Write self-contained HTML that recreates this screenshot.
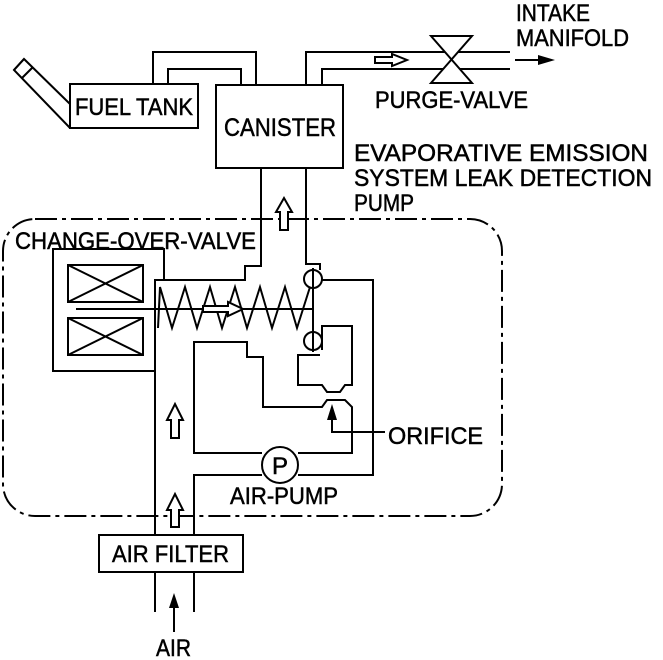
<!DOCTYPE html>
<html><head><meta charset="utf-8"><style>
html,body{margin:0;padding:0;background:#fff;}
svg{display:block;}
text{font-family:"Liberation Sans",Arial,sans-serif;fill:#000;stroke:#000;stroke-width:0.5px;font-size:24px;}
</style></head><body>
<svg width="663" height="660" viewBox="0 0 663 660" xmlns="http://www.w3.org/2000/svg">
<g fill="none" stroke="#000" stroke-width="2" stroke-linejoin="miter">
<rect x="3" y="219" width="499" height="297" rx="32" ry="32" stroke-dasharray="22,5,4,5"/>
<polyline points="70,128 14,70 24,59 70,104"/>
<line x1="14" y1="70" x2="24" y2="59"/>
<line x1="22" y1="78" x2="33" y2="67"/>
<rect x="70" y="84" width="128" height="44" fill="#fff"/>
<rect x="216" y="85" width="127" height="83"/>
<polyline points="153,84 153,52 256,52 256,85"/>
<polyline points="168,84 168,69 241,69 241,85"/>
<polyline points="306,85 306,52 510,52"/>
<polyline points="322,85 322,69 510,69"/>
<polygon points="431,36 472,36 431,83 472,83" fill="#fff"/>
<polygon points="375,57 392,57 392,54 407,60 392,66 392,63 375,63" fill="#fff"/>
<polyline points="261,168 261,266 245,266 245,280 155,280 155,535"/>
<polyline points="306,168 306,264 320,264 320,270"/>
<polygon points="280,230 280,212 276,212 284,198 292,212 288,212 288,230" fill="#fff"/>
<polyline points="155,371 53,371 53,249 164,249 164,280"/>
<rect x="68" y="265" width="75" height="37"/>
<line x1="68" y1="265" x2="143" y2="302"/><line x1="143" y1="265" x2="68" y2="302"/>
<rect x="68" y="318" width="75" height="37"/>
<line x1="68" y1="318" x2="143" y2="355"/><line x1="143" y1="318" x2="68" y2="355"/>
<line x1="76" y1="309" x2="313" y2="309"/>
<polyline points="158,328 160,287 172,328 185,287 197,328 210,287 222,328 235,287 247,328 260,287 272,328 285,287 297,328 310,287"/>
<polygon points="203,306 228,306 228,302 243,309 228,316 228,312 203,312" fill="#fff"/>
<line x1="313" y1="268" x2="313" y2="352"/>
<circle cx="313" cy="279" r="9"/>
<circle cx="313" cy="341" r="9"/>
<polyline points="322,280 373,280 373,475 298,475"/>
<polyline points="262,475 194,475 194,535"/>
<polyline points="262,453 194,453 194,342 247,342 247,357 263,357 263,407 322,407 327,400 345,400 352,407 352,453 298,453"/>
<polyline points="322,350 322,326 352,326 352,385 345,385 340,392 327,392 322,385 298,385 298,355 320,355"/>
<circle cx="280" cy="465" r="18"/>
<polyline points="385,432 332,432 332,418"/>
<polygon points="171,438 171,420 167,420 175,404 183,420 179,420 179,438" fill="#fff"/>
<polygon points="171,527 171,510 167,510 175,494 183,510 179,510 179,527" fill="#fff"/>
<rect x="99" y="535" width="144" height="37" fill="#fff"/>
<line x1="155" y1="572" x2="155" y2="612"/>
<line x1="194" y1="572" x2="194" y2="612"/>
<line x1="174" y1="632" x2="174" y2="600"/>
<line x1="515" y1="60" x2="540" y2="60"/>
</g>
<g fill="#000">
<polygon points="332,404 327,420 337,420"/>
<polygon points="174,593 169,608 179,608"/>
<polygon points="555,60 538,55 538,65"/>
</g>
<text x="280" y="474" text-anchor="middle">P</text>
<text x="75" y="115" textLength="118" lengthAdjust="spacingAndGlyphs">FUEL TANK</text>
<text x="224" y="136" style="font-size:25px" textLength="112" lengthAdjust="spacingAndGlyphs">CANISTER</text>
<text x="516" y="21" textLength="74" lengthAdjust="spacingAndGlyphs">INTAKE</text>
<text x="516" y="46" textLength="113" lengthAdjust="spacingAndGlyphs">MANIFOLD</text>
<text x="375" y="108" textLength="153" lengthAdjust="spacingAndGlyphs">PURGE-VALVE</text>
<text x="354" y="161" textLength="294" lengthAdjust="spacingAndGlyphs">EVAPORATIVE EMISSION</text>
<text x="354" y="186" textLength="298" lengthAdjust="spacingAndGlyphs">SYSTEM LEAK DETECTION</text>
<text x="354" y="211" textLength="60" lengthAdjust="spacingAndGlyphs">PUMP</text>
<text x="15" y="249" textLength="241" lengthAdjust="spacingAndGlyphs">CHANGE-OVER-VALVE</text>
<text x="388" y="444" textLength="95" lengthAdjust="spacingAndGlyphs">ORIFICE</text>
<text x="230" y="504" textLength="108" lengthAdjust="spacingAndGlyphs">AIR-PUMP</text>
<text x="112" y="562" textLength="117" lengthAdjust="spacingAndGlyphs">AIR FILTER</text>
<text x="156" y="656" textLength="35" lengthAdjust="spacingAndGlyphs">AIR</text>
</svg>
</body></html>
